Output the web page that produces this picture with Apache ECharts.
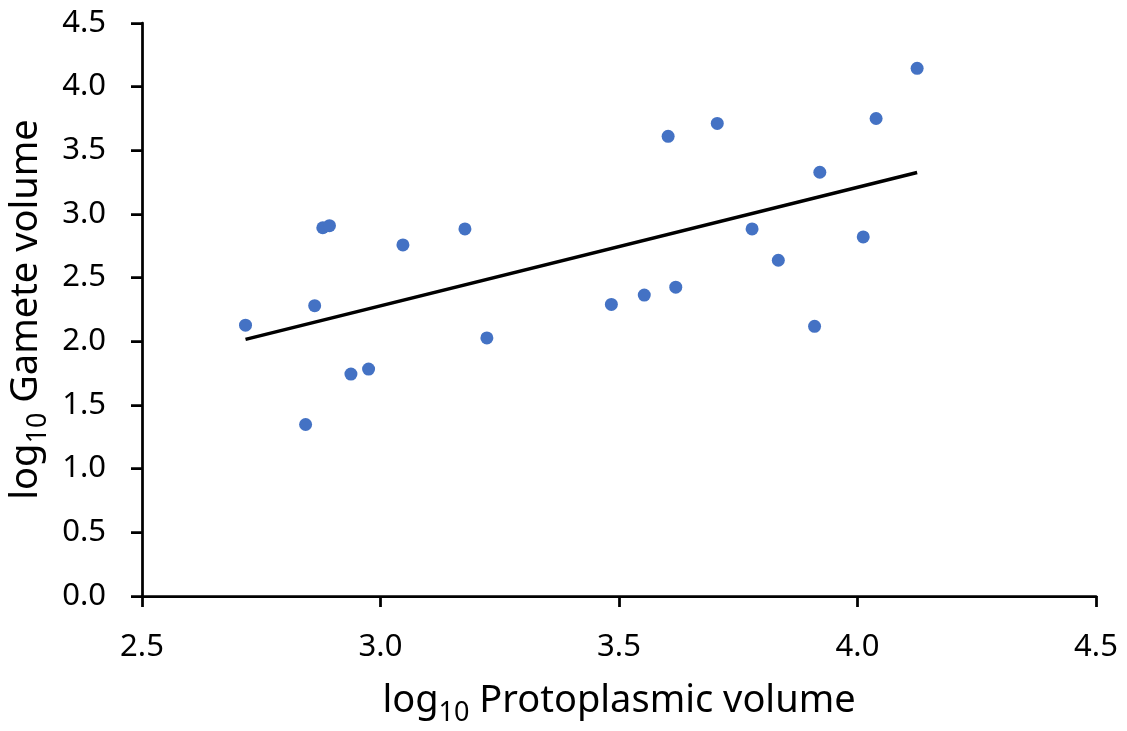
<!DOCTYPE html>
<html>
<head>
<meta charset="utf-8">
<script src="https://cdn.jsdelivr.net/npm/echarts@6/dist/echarts.min.js"></script>
<style>
html,body{margin:0;padding:0;background:#fff;}
#chart{width:1127px;height:731px;}
</style>
</head>
<body>
<div id="chart"></div>
<script>
// log10 Protoplasmic volume (x) and log10 Gamete volume (y)
const protoplasmicLog = [2.717, 2.843, 2.862, 2.879, 2.893, 2.938, 2.975, 3.047, 3.177, 3.223, 3.484, 3.553, 3.619, 3.603, 3.706, 3.779, 3.834, 3.910, 3.921, 4.012, 4.039, 4.125];
const gameteLog       = [2.127, 1.347, 2.280, 2.892, 2.908, 1.743, 1.782, 2.757, 2.883, 2.027, 2.290, 2.363, 2.425, 3.610, 3.711, 2.883, 2.637, 2.118, 3.328, 2.820, 3.750, 4.144];
// linear trendline end points
const trendX = [2.717, 4.125];
const trendY = [2.015, 3.326];
const xTicks = {min: 2.5, max: 4.5, interval: 0.5};
const yTicks = {min: 0, max: 4.5, interval: 0.5};
const xTitle = ['log', '10', ' Protoplasmic volume'];
const yTitle = ['log', '10', ' Gamete volume'];

const FONT = 'Noto Sans';
const points = protoplasmicLog.map((x, i) => [x, gameteLog[i]]);
const trend = trendX.map((x, i) => [x, trendY[i]]);
const richTitle = {
  a: {fontFamily: FONT, fontSize: 38, color: '#000', lineHeight: 46},
  s: {fontFamily: FONT, fontSize: 27, color: '#000', lineHeight: 22, padding: [24, 0, 0, 0]}
};
const fmtTitle = t => `{a|${t[0]}}{s|${t[1]}}{a|${t[2]}}`;

const chart = echarts.init(document.getElementById('chart'), null, {renderer: 'canvas'});
chart.setOption({
  animation: false,
  backgroundColor: '#fff',
  grid: {left: 142, right: 31, top: 23, bottom: 135, containLabel: false, outerBoundsMode: 'none'},
  xAxis: {
    type: 'value', min: xTicks.min, max: xTicks.max, interval: xTicks.interval,
    name: fmtTitle(xTitle), nameLocation: 'middle', nameGap: 82,
    nameTextStyle: {rich: richTitle},
    axisLine: {show: true, onZero: false, lineStyle: {color: '#000', width: 2.75}},
    axisTick: {show: true, inside: false, length: 11, lineStyle: {color: '#000', width: 2.75}},
    axisLabel: {fontFamily: FONT, fontSize: 31, color: '#000', margin: 36, formatter: v => v.toFixed(1)},
    splitLine: {show: false}
  },
  yAxis: {
    type: 'value', min: yTicks.min, max: yTicks.max, interval: yTicks.interval,
    name: fmtTitle(yTitle), nameLocation: 'middle', nameGap: 83, nameRotate: 90,
    nameTextStyle: {rich: richTitle},
    axisLine: {show: true, onZero: false, lineStyle: {color: '#000', width: 2.75}},
    axisTick: {show: true, inside: false, length: 11, lineStyle: {color: '#000', width: 2.75}},
    axisLabel: {fontFamily: FONT, fontSize: 31, color: '#000', margin: 36, formatter: v => v.toFixed(1)},
    splitLine: {show: false}
  },
  series: [
    {
      type: 'scatter', data: points, symbol: 'circle', symbolSize: 13,
      itemStyle: {color: '#4472C4', opacity: 1}, z: 2
    },
    {
      type: 'line', data: trend, showSymbol: false, symbol: 'none',
      lineStyle: {color: '#000', width: 3.5}, z: 3, silent: true
    }
  ]
});
</script>
</body>
</html>
